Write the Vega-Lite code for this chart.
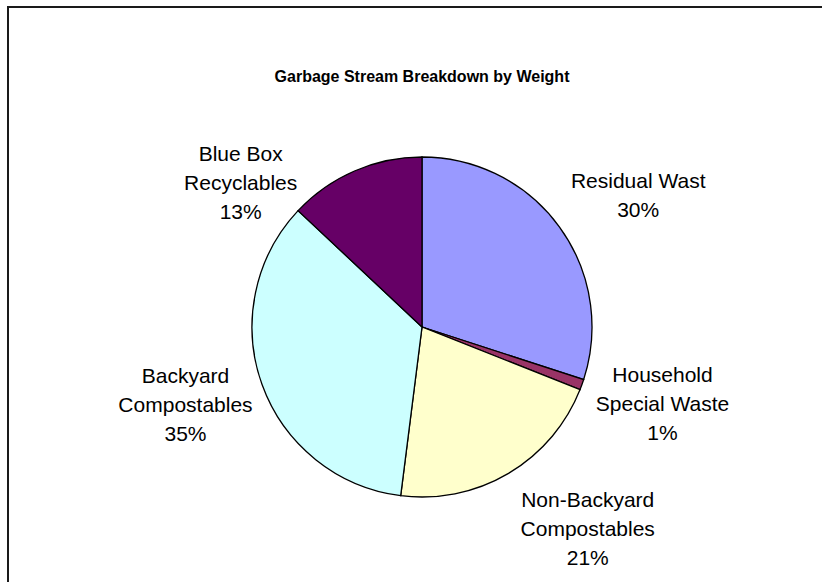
{
  "$schema": "https://vega.github.io/schema/vega-lite/v6.json",
  "width": 828,
  "height": 640,
  "autosize": {"type": "none"},
  "padding": {"left": 8, "top": 7, "right": 0, "bottom": 0},
  "background": "white",
  "view": {"stroke": "#1a1a1a", "strokeWidth": 2, "fill": "white"},
  "title": {
    "text": "Garbage Stream Breakdown by Weight",
    "font": "Liberation Sans",
    "fontSize": 16,
    "fontWeight": "bold",
    "color": "black",
    "anchor": "middle",
    "frame": "group",
    "offset": -86,
    "baseline": "middle"
  },
  "data": {
    "values": [
      {"category": "Residual Waste", "label": "Residual Wast", "value": 30, "order": 1},
      {"category": "Household Special Waste", "label": "Household\nSpecial Waste", "value": 1, "order": 2},
      {"category": "Non-Backyard Compostables", "label": "Non-Backyard\nCompostables", "value": 21, "order": 3},
      {"category": "Backyard Compostables", "label": "Backyard\nCompostables", "value": 35, "order": 4},
      {"category": "Blue Box Recyclables", "label": "Blue Box\nRecyclables", "value": 13, "order": 5}
    ]
  },
  "transform": [{"calculate": "datum.label + '\\n' + datum.value + '%'", "as": "text"}],
  "encoding": {
    "theta": {"field": "value", "type": "quantitative", "stack": true},
    "order": {"field": "order", "type": "quantitative"}
  },
  "layer": [
    {
      "mark": {"type": "arc", "outerRadius": 170, "stroke": "black", "strokeWidth": 1.3},
      "encoding": {
        "color": {
          "field": "category",
          "type": "nominal",
          "scale": {
            "domain": ["Residual Waste", "Household Special Waste", "Non-Backyard Compostables", "Backyard Compostables", "Blue Box Recyclables"],
            "range": ["#9999FF", "#993366", "#FFFFCC", "#CCFFFF", "#660066"]
          },
          "legend": null
        }
      }
    },
    {
      "mark": {
        "type": "text",
        "radius": 245,
        "font": "Liberation Sans",
        "fontSize": 21,
        "lineBreak": "\n",
        "lineHeight": 29,
        "align": "center",
        "baseline": "middle",
        "fill": "black",
        "dx": {"expr": "datum.category=='Residual Waste'?18:datum.category=='Household Special Waste'?10:datum.category=='Non-Backyard Compostables'?41:datum.category=='Backyard Compostables'?-6:-84"},
        "dy": {"expr": "datum.category=='Residual Waste'?-1:datum.category=='Household Special Waste'?-34:datum.category=='Non-Backyard Compostables'?-37:datum.category=='Backyard Compostables'?-33:53"}
      },
      "encoding": {
        "text": {"field": "text"},
        "detail": {"field": "category"}
      }
    }
  ]
}
